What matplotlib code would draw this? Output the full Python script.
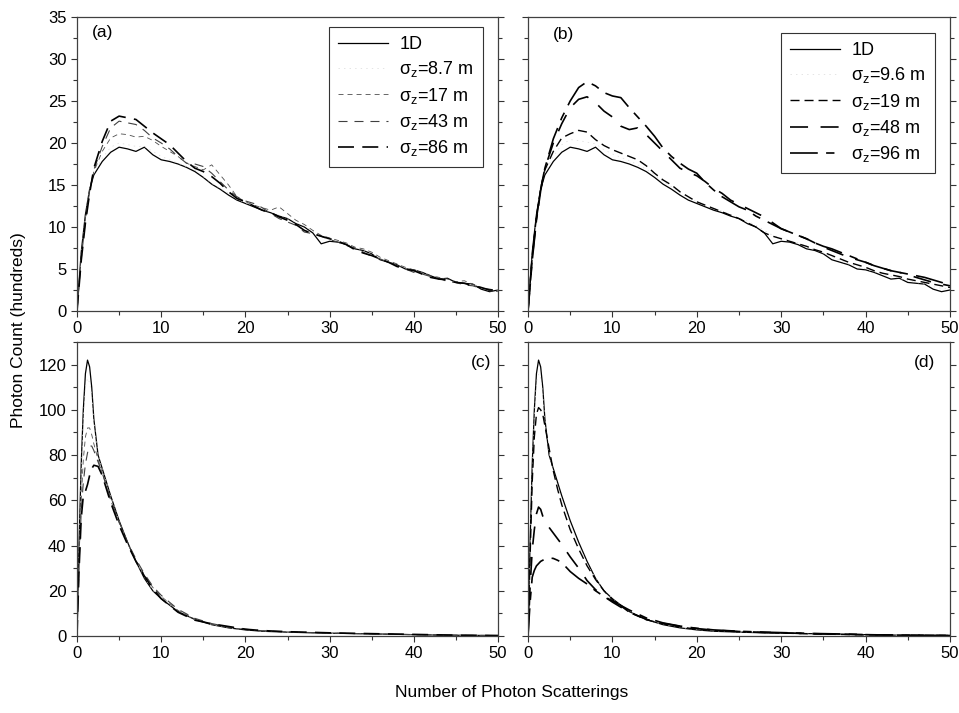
import matplotlib
matplotlib.use('Agg')
import matplotlib.pyplot as plt
from matplotlib.ticker import MultipleLocator

plt.rcParams['font.family'] = ['Liberation Sans', 'DejaVu Sans']
plt.rcParams['mathtext.fontset'] = 'custom'
plt.rcParams['mathtext.rm'] = 'Liberation Sans'
plt.rcParams['mathtext.default'] = 'regular'
plt.rcParams['lines.scale_dashes'] = False

# ---- data ----
# top panels: x grid of scatterings
x_top = [0, 0.5, 1, 1.5, 2] + list(range(3, 51))

# same 1D curve in (a) and (b)
oned_top = [0, 7.0, 11.5, 14.5, 16.2,
            17.8, 18.9, 19.5, 19.3, 19.0,
            19.5, 18.6, 18.0, 17.8, 17.5,
            17.1, 16.6, 15.9, 15.1, 14.5,
            13.8, 13.2, 12.8, 12.4, 12.0,
            11.7, 11.3, 11.0, 10.4, 10.0,
            9.3, 8.0, 8.3, 8.2, 7.9,
            7.4, 7.2, 6.8, 6.1, 5.8,
            5.5, 5.0, 4.9, 4.6, 4.2,
            3.8, 3.9, 3.4, 3.3, 3.2,
            2.6, 2.3, 2.5]

# panel (a)
a_8p7 = [0, 6.8, 11.3, 14.5, 16.4,
         18.2, 19.5, 20.0, 19.8, 19.6,
         19.6, 19.0, 18.4, 18.0, 17.6,
         17.2, 16.8, 16.0, 15.2, 14.6,
         14.0, 13.3, 12.9, 12.5, 12.2,
         11.8, 11.4, 11.0, 10.6, 10.1,
         9.5, 8.8, 8.5, 8.3, 8.0,
         7.6, 7.2, 6.8, 6.3, 5.9,
         5.5, 5.2, 4.9, 4.6, 4.3,
         4.0, 3.8, 3.5, 3.3, 3.1,
         2.8, 2.6, 2.5]
a_17 = [0, 6.5, 11.0, 14.5, 16.6,
        19.0, 20.6, 21.1, 21.0, 20.7,
        20.8, 20.3, 19.6, 19.0, 18.4,
        17.6, 17.2, 16.8, 17.4, 16.2,
        15.0, 13.6, 13.0, 12.6, 12.3,
        12.0, 12.4, 11.6, 10.8, 10.3,
        9.6, 9.0, 8.7, 8.4, 8.1,
        7.6, 7.4, 7.0, 6.4, 6.0,
        5.6, 5.2, 4.9, 4.5, 4.2,
        4.0, 3.8, 3.5, 3.6, 3.2,
        2.8, 2.4, 2.3]
a_43 = [0, 6.2, 10.8, 14.3, 16.8,
        19.6, 21.8, 22.6, 22.4, 22.2,
        21.5, 20.6, 20.0, 19.3, 18.4,
        17.6, 17.5, 17.2, 16.4, 15.4,
        14.4, 13.6, 13.1, 12.8, 12.3,
        11.6, 11.0, 10.6, 10.2, 9.4,
        9.2, 8.9, 8.5, 8.2, 7.8,
        7.5, 7.0, 6.5, 6.2, 5.8,
        5.4, 5.0, 4.6, 4.4, 4.1,
        3.9, 3.5, 3.4, 3.1, 3.0,
        2.7, 2.6, 2.4]
a_86 = [0, 6.0, 10.5, 14.0, 17.0,
        20.2, 22.6, 23.2, 23.0, 22.8,
        22.0, 21.2, 20.5, 19.8, 18.8,
        17.8, 17.0, 16.6, 16.0, 15.2,
        14.2, 13.4, 13.0, 12.5, 12.0,
        11.7, 11.2, 10.8, 10.3, 9.6,
        9.2, 8.9, 8.6, 8.3, 7.9,
        7.3, 6.9, 6.6, 6.2, 5.8,
        5.3, 5.0, 4.8, 4.4, 4.0,
        3.8, 3.7, 3.4, 3.3, 3.0,
        2.8, 2.5, 2.5]

# panel (b)
b_9p6 = [0, 6.8, 11.4, 14.6, 16.5,
         18.4, 19.8, 20.4, 20.3, 20.1,
         19.9, 19.2, 18.7, 18.3, 17.9,
         17.4, 16.9, 16.2, 15.4, 14.8,
         14.1, 13.5, 13.0, 12.6, 12.2,
         11.9, 11.5, 11.1, 10.7, 10.2,
         9.6, 9.0, 8.7, 8.4, 8.1,
         7.7, 7.3, 6.9, 6.4, 6.0,
         5.6, 5.3, 5.0, 4.7, 4.4,
         4.1, 3.9, 3.6, 3.4, 3.2,
         2.9, 2.7, 2.6]
b_19 = [0, 6.5, 11.2, 14.6, 16.8,
        19.0, 20.6, 21.1, 21.5, 21.3,
        20.4, 19.7, 19.2, 18.8, 18.4,
        18.0, 17.3, 16.4, 15.6, 15.0,
        14.2, 13.6, 13.0, 12.6, 12.2,
        11.8, 11.4, 11.0, 10.5, 10.0,
        9.3, 8.9, 8.6, 8.3, 8.0,
        7.7, 7.3, 7.0, 6.6, 6.2,
        5.8, 5.5, 5.2, 4.8, 4.5,
        4.3, 4.1, 3.8, 3.6, 3.4,
        3.2, 3.0, 2.8]
b_48 = [0, 6.3, 11.0, 14.5, 17.0,
        20.0, 22.3, 24.2, 25.2, 25.5,
        24.8, 23.8, 23.1, 22.0, 21.6,
        21.8, 21.0, 20.0, 19.0, 18.0,
        17.0, 16.5, 16.1, 15.4, 14.6,
        14.0, 13.2, 12.7, 12.2, 11.7,
        11.2, 10.5, 9.8, 9.4, 9.0,
        8.6, 8.1, 7.6, 7.2, 6.8,
        6.4, 6.1, 5.8, 5.4, 5.1,
        4.8, 4.6, 4.3, 4.0, 3.7,
        3.4, 3.2, 3.0]
b_96 = [0, 6.0, 10.8, 14.3, 17.0,
        20.5, 23.0, 25.0, 26.6, 27.3,
        26.8, 26.0, 25.6, 25.4, 24.2,
        23.1, 22.0, 20.8, 19.4, 18.4,
        17.6, 16.9, 16.4, 15.3, 14.4,
        13.6, 13.0, 12.4, 12.0, 11.3,
        10.8, 10.3, 9.8, 9.4, 9.0,
        8.6, 8.1, 7.7, 7.4, 7.0,
        6.6, 6.2, 5.8, 5.4, 5.1,
        4.8, 4.6, 4.4, 4.2, 4.0,
        3.7, 3.4, 3.1]

# bottom panels
x_bot = [0, 0.25, 0.5, 0.75, 1,
         1.25, 1.5, 1.75, 2, 2.5,
         3, 3.5, 4, 5, 6,
         7, 8, 9, 10, 12,
         14, 16, 18, 20, 22,
         25, 28, 31, 34, 37,
         40, 43, 46, 50]

oned_bot = [0, 42, 76, 100, 116,
            122, 119, 110, 96, 80,
            74, 68, 62, 51, 41.5,
            33, 25.5, 20, 16.5, 10.8,
            7.3, 5.0, 3.6, 2.7, 2.1,
            1.7, 1.4, 1.2, 1.0, 0.8,
            0.6, 0.4, 0.3, 0.2]

c_8p7 = [0, 40, 72, 96, 110,
         114, 112, 106, 95, 80,
         74, 68, 62, 51, 41.5,
         33, 25.8, 20.3, 16.8, 11,
         7.3, 5.0, 3.6, 2.7, 2.1,
         1.7, 1.4, 1.2, 1.0, 0.8,
         0.6, 0.4, 0.3, 0.2]
c_17 = [0, 35, 60, 78, 88,
        92, 92, 89, 85, 78,
        72, 66, 60, 50, 41,
        33.5, 27, 21.5, 17.5, 11.3,
        7.5, 5.2, 3.8, 2.8, 2.2,
        1.8, 1.5, 1.2, 1.0, 0.8,
        0.6, 0.4, 0.3, 0.2]
c_43 = [0, 32, 55, 68, 76,
        81, 84, 84, 82, 77,
        72, 66.5, 60.5, 50.5, 41.5,
        34, 27.5, 22, 18, 11.8,
        7.8, 5.5, 4.0, 3.0, 2.3,
        1.8, 1.5, 1.2, 1.0, 0.8,
        0.6, 0.4, 0.3, 0.2]
c_86 = [0, 30, 52, 62, 64,
        67, 71, 74, 75.5, 75,
        71, 65, 59, 49, 40.5,
        33, 26.5, 21, 16.5, 10.5,
        7.0, 5.4, 4.2, 3.0, 2.4,
        1.9, 1.6, 1.3, 1.1, 0.9,
        0.7, 0.5, 0.3, 0.2]

d_9p6 = [0, 40, 74, 98, 112,
         116, 114, 107, 96, 81,
         73, 66, 60, 49, 40,
         32, 25.5, 20.5, 16.5, 10.8,
         7.2, 5.1, 3.8, 2.8, 2.2,
         1.7, 1.4, 1.2, 1.0, 0.8,
         0.6, 0.4, 0.3, 0.2]
d_19 = [0, 35, 68, 88, 98,
        101, 100, 98, 93, 83,
        73, 65, 58, 47, 38.5,
        31, 25, 20, 16, 10.5,
        7.2, 5.4, 4.0, 3.0, 2.4,
        1.9, 1.5, 1.2, 0.9, 0.7,
        0.5, 0.4, 0.3, 0.2]
d_48 = [0, 22, 38, 47, 54,
        57, 56, 53, 51, 48,
        45.5, 43, 40.5, 35, 30,
        24.5, 20.5, 17.5, 15, 10.5,
        7.4, 5.6, 4.3, 3.3, 2.6,
        2.0, 1.6, 1.3, 1.0, 0.8,
        0.6, 0.4, 0.3, 0.2]
d_96 = [0, 15, 26, 29, 31,
        32, 33, 33.5, 34, 34.5,
        34.3, 33.5, 32.5, 28.5, 25.5,
        23, 20, 17.5, 15.5, 11.5,
        8.0, 5.8, 4.4, 3.4, 2.7,
        2.1, 1.7, 1.4, 1.1, 0.9,
        0.6, 0.4, 0.3, 0.2]

labels_a = ['1D', 'σ$_z$=8.7 m', 'σ$_z$=17 m', 'σ$_z$=43 m', 'σ$_z$=86 m']
labels_b = ['1D', 'σ$_z$=9.6 m', 'σ$_z$=19 m', 'σ$_z$=48 m', 'σ$_z$=96 m']

# line styles: (color, lw, dashes) ; None dashes = solid
faint = ('0.85', 0.5, (1, 3))
style_a = [('k', 0.9, None), faint, ('0.3', 0.6, (3.6, 2.9)),
           ('0.25', 0.8, (6.5, 5)), ('k', 1.2, (11.5, 6))]
style_b = [('k', 0.9, None), faint, ('k', 1.0, (6.5, 3.6)),
           ('k', 1.2, (13, 9)), ('k', 1.2, (20, 6, 6, 6))]

fig = plt.figure(figsize=(9.59, 7.13), dpi=100)
W, H = 959.0, 713.0
ax_a = fig.add_axes([77 / W, 1 - 311 / H, 421 / W, 294 / H])
ax_b = fig.add_axes([528 / W, 1 - 311 / H, 422 / W, 294 / H])
ax_c = fig.add_axes([77 / W, 1 - 636 / H, 421 / W, 294 / H])
ax_d = fig.add_axes([528 / W, 1 - 636 / H, 422 / W, 294 / H])


def draw(ax, x, series, styles, labels):
    for y, (col, lw, dash), lab in zip(series, styles, labels):
        line, = ax.plot(x, y, color=col, lw=lw, label=lab)
        if dash is not None:
            line.set_dashes(dash)


draw(ax_a, x_top, [oned_top, a_8p7, a_17, a_43, a_86], style_a, labels_a)
draw(ax_b, x_top, [oned_top, b_9p6, b_19, b_48, b_96], style_b, labels_b)
draw(ax_c, x_bot, [oned_bot, c_8p7, c_17, c_43, c_86], style_a, labels_a)
draw(ax_d, x_bot, [oned_bot, d_9p6, d_19, d_48, d_96], style_b, labels_b)

for ax in (ax_a, ax_b, ax_c, ax_d):
    ax.set_xlim(0, 50)
    ax.xaxis.set_major_locator(MultipleLocator(10))
    ax.xaxis.set_minor_locator(MultipleLocator(5))
    ax.tick_params(which='both', direction='out', right=True, top=False,
                   width=0.8, colors='0.2', labelcolor='k', labelsize=12)
    ax.tick_params(which='major', length=4)
    ax.tick_params(which='minor', length=3)
    for sp in ax.spines.values():
        sp.set_linewidth(0.9)
        sp.set_color('0.25')

for ax in (ax_a, ax_b):
    ax.set_ylim(0, 35)
    ax.yaxis.set_major_locator(MultipleLocator(5))
    ax.yaxis.set_minor_locator(MultipleLocator(2.5))
for ax in (ax_c, ax_d):
    ax.set_ylim(0, 130)
    ax.set_yticks(range(0, 121, 20))
    ax.yaxis.set_minor_locator(MultipleLocator(10))
for ax in (ax_b, ax_d):
    ax.tick_params(labelleft=False)

ax_a.text(0.036, 0.972, '(a)', transform=ax_a.transAxes, ha='left', va='top', fontsize=12.5)
ax_b.text(0.059, 0.966, '(b)', transform=ax_b.transAxes, ha='left', va='top', fontsize=12.5)
ax_c.text(0.985, 0.955, '(c)', transform=ax_c.transAxes, ha='right', va='top', fontsize=12.5)
ax_d.text(0.965, 0.955, '(d)', transform=ax_d.transAxes, ha='right', va='top', fontsize=12.5)

for ax, anchor in ((ax_a, (0.964, 0.966)), (ax_b, (0.964, 0.946))):
    leg = ax.legend(loc='upper right', bbox_to_anchor=anchor, fontsize=13,
                    frameon=True, fancybox=False, framealpha=1,
                    edgecolor='0.2', handlelength=2.8, handletextpad=0.6,
                    labelspacing=0.35, borderpad=0.5, borderaxespad=0)
    leg.get_frame().set_linewidth(0.8)

fig.text(0.019, 0.537, 'Photon Count (hundreds)', rotation=90,
         ha='center', va='center', fontsize=12.5)
fig.text(0.534, 0.029, 'Number of Photon Scatterings',
         ha='center', va='center', fontsize=12.5)

fig.savefig('out.png', dpi=100)
